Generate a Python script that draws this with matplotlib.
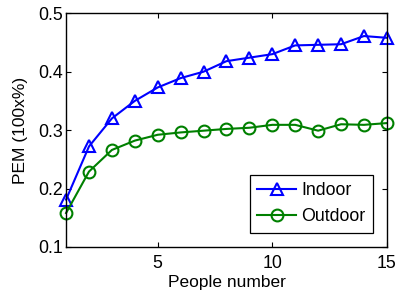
import matplotlib
matplotlib.use("Agg")
import matplotlib.pyplot as plt
import numpy as np

plt.rcParams["font.family"] = ["Liberation Sans", "DejaVu Sans"]

people = np.arange(1, 16)
indoor = [0.181, 0.272, 0.320, 0.350, 0.373, 0.389, 0.400, 0.418, 0.424,
          0.430, 0.445, 0.446, 0.447, 0.461, 0.458]
outdoor = [0.158, 0.229, 0.266, 0.282, 0.292, 0.296, 0.299, 0.302, 0.304,
           0.309, 0.309, 0.299, 0.310, 0.309, 0.312]

fig = plt.figure(figsize=(3.98, 2.95), dpi=100)
ax = fig.add_axes([0.166, 0.163, 0.806, 0.792])

ax.plot(people, indoor, color="blue", marker="^", markersize=9,
        markerfacecolor="none", markeredgewidth=1.5, linewidth=1.5,
        label="Indoor", clip_on=False)
ax.plot(people, outdoor, color="green", marker="o", markersize=8.5,
        markerfacecolor="none", markeredgewidth=1.5, linewidth=1.5,
        label="Outdoor", clip_on=False)

ax.set_xlim(1, 15)
ax.set_ylim(0.1, 0.5)
ax.set_xticks([5, 10, 15])
ax.set_yticks([0.1, 0.2, 0.3, 0.4, 0.5])
ax.set_yticklabels(["0.1", "0.2", "0.3", "0.4", "0.5"])
ax.tick_params(direction="in", top=True, right=True, length=3.5,
               labelsize=12.8, width=0.8)
ax.tick_params(axis="x", pad=6)
ax.tick_params(axis="y", pad=2.5)
for s in ax.spines.values():
    s.set_linewidth(1.0)

ax.set_xlabel("People number", fontsize=12.5, labelpad=2)
ax.set_ylabel("PEM (100x%)", fontsize=12.5, labelpad=7)

leg = ax.legend(loc="lower right", fontsize=12.8, fancybox=False,
                edgecolor="black", framealpha=1, handlelength=2.2,
                borderaxespad=0.8, handletextpad=0.25, borderpad=0.42,
                labelspacing=0.5)
leg.get_frame().set_linewidth(0.9)

fig.savefig("out.png", dpi=100)
